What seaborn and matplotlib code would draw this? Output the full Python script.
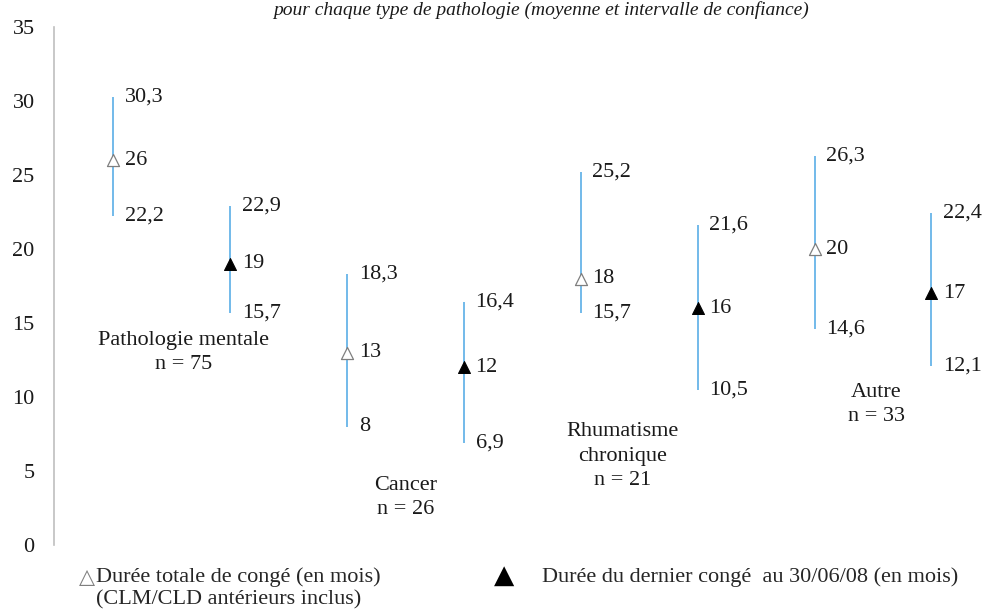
import numpy as np
import pandas as pd
import seaborn as sns
import matplotlib.pyplot as plt

# data
categories = ["Pathologie mentale", "Cancer", "Rhumatisme\nchronique", "Autre"]
effectifs = [75, 26, 21, 33]
total_moy = [26, 13, 18, 20]
total_bas = [22.2, 8, 15.7, 14.6]
total_haut = [30.3, 18.3, 25.2, 26.3]
dernier_moy = [19, 12, 16, 17]
dernier_bas = [15.7, 6.9, 10.5, 12.1]
dernier_haut = [22.9, 16.4, 21.6, 22.4]
y_ticks = [0, 5, 10, 15, 20, 25, 30, 35]

sns.set_style("white")
plt.rcParams['font.family'] = ['Liberation Serif', 'DejaVu Sans']

rows = []
for i, cat in enumerate(categories):
    rows.append(dict(pos=2 * i, serie="total", moy=total_moy[i], bas=total_bas[i], haut=total_haut[i]))
    rows.append(dict(pos=2 * i + 1, serie="dernier", moy=dernier_moy[i], bas=dernier_bas[i], haut=dernier_haut[i]))
df = pd.DataFrame(rows)

fig = plt.figure(figsize=(9.84, 6.14), dpi=100)
ax = fig.add_axes([0.055, 0.1124, 0.945, 0.8436])

blue = "#5AAEE6"
ax.vlines(df["pos"], df["bas"], df["haut"], color=blue, lw=1.2, zorder=1)

sns.scatterplot(data=df[df["serie"] == "total"], x="pos", y="moy", marker="^", s=75,
                facecolor="white", edgecolor="#7f7f7f", linewidth=0.9, ax=ax, zorder=3)
sns.scatterplot(data=df[df["serie"] == "dernier"], x="pos", y="moy", marker="^", s=75,
                color="black", edgecolor="black", ax=ax, zorder=3)

def fmt(v):
    return ("%g" % v).replace(".", ",")

for _, r in df.iterrows():
    for v in (r["haut"], r["moy"], r["bas"]):
        ax.text(r["pos"] + 0.1, v, fmt(v), fontsize=16, va="center", ha="left", color="#1a1a1a")

# group labels
lab_pos = [(0.6, 13.0), (2.5, 3.2), (4.36, 6.0), (6.53, 9.5)]
for (x, y), cat, n in zip(lab_pos, categories, effectifs):
    ax.text(x, y, cat + "\nn = %d" % n, fontsize=16, ha="center", va="center",
            linespacing=1.4, color="#1a1a1a")

ax.set_xlim(-0.505, 7.45)
ax.set_ylim(0, 35)
ax.set_yticks(y_ticks)
ax.set_xticks([])
ax.set_xlabel("")
ax.set_ylabel("")
ax.tick_params(axis="y", labelsize=16, length=0, pad=14, labelcolor="#1a1a1a")
for s in ["top", "right", "bottom"]:
    ax.spines[s].set_visible(False)
ax.spines["left"].set_color("#bfbfbf")
ax.spines["left"].set_linewidth(1.2)

# legend below
fig.text(0.080, 0.060, "\u25b3", fontsize=15, color="#7f7f7f", va="center", ha="left",
         family=["DejaVu Sans"])
fig.text(0.098, 0.060, "Durée totale de congé (en mois)", fontsize=16, va="center", ha="left")
fig.text(0.098, 0.023, "(CLM/CLD antérieurs inclus)", fontsize=16, va="center", ha="left")
fig.text(0.502, 0.062, "\u25b2", fontsize=19, color="black", va="center", ha="left",
         family=["DejaVu Sans"])
fig.text(0.551, 0.060, "Durée du dernier congé  au 30/06/08 (en mois)", fontsize=16,
         va="center", ha="left")

# title at the top of the image
fig.text(0.55, 0.998, "pour chaque type de pathologie (moyenne et intervalle de confiance)",
         fontsize=14, style="italic", ha="center", va="top", color="#1a1a1a")

fig.savefig("out.png", dpi=100)
